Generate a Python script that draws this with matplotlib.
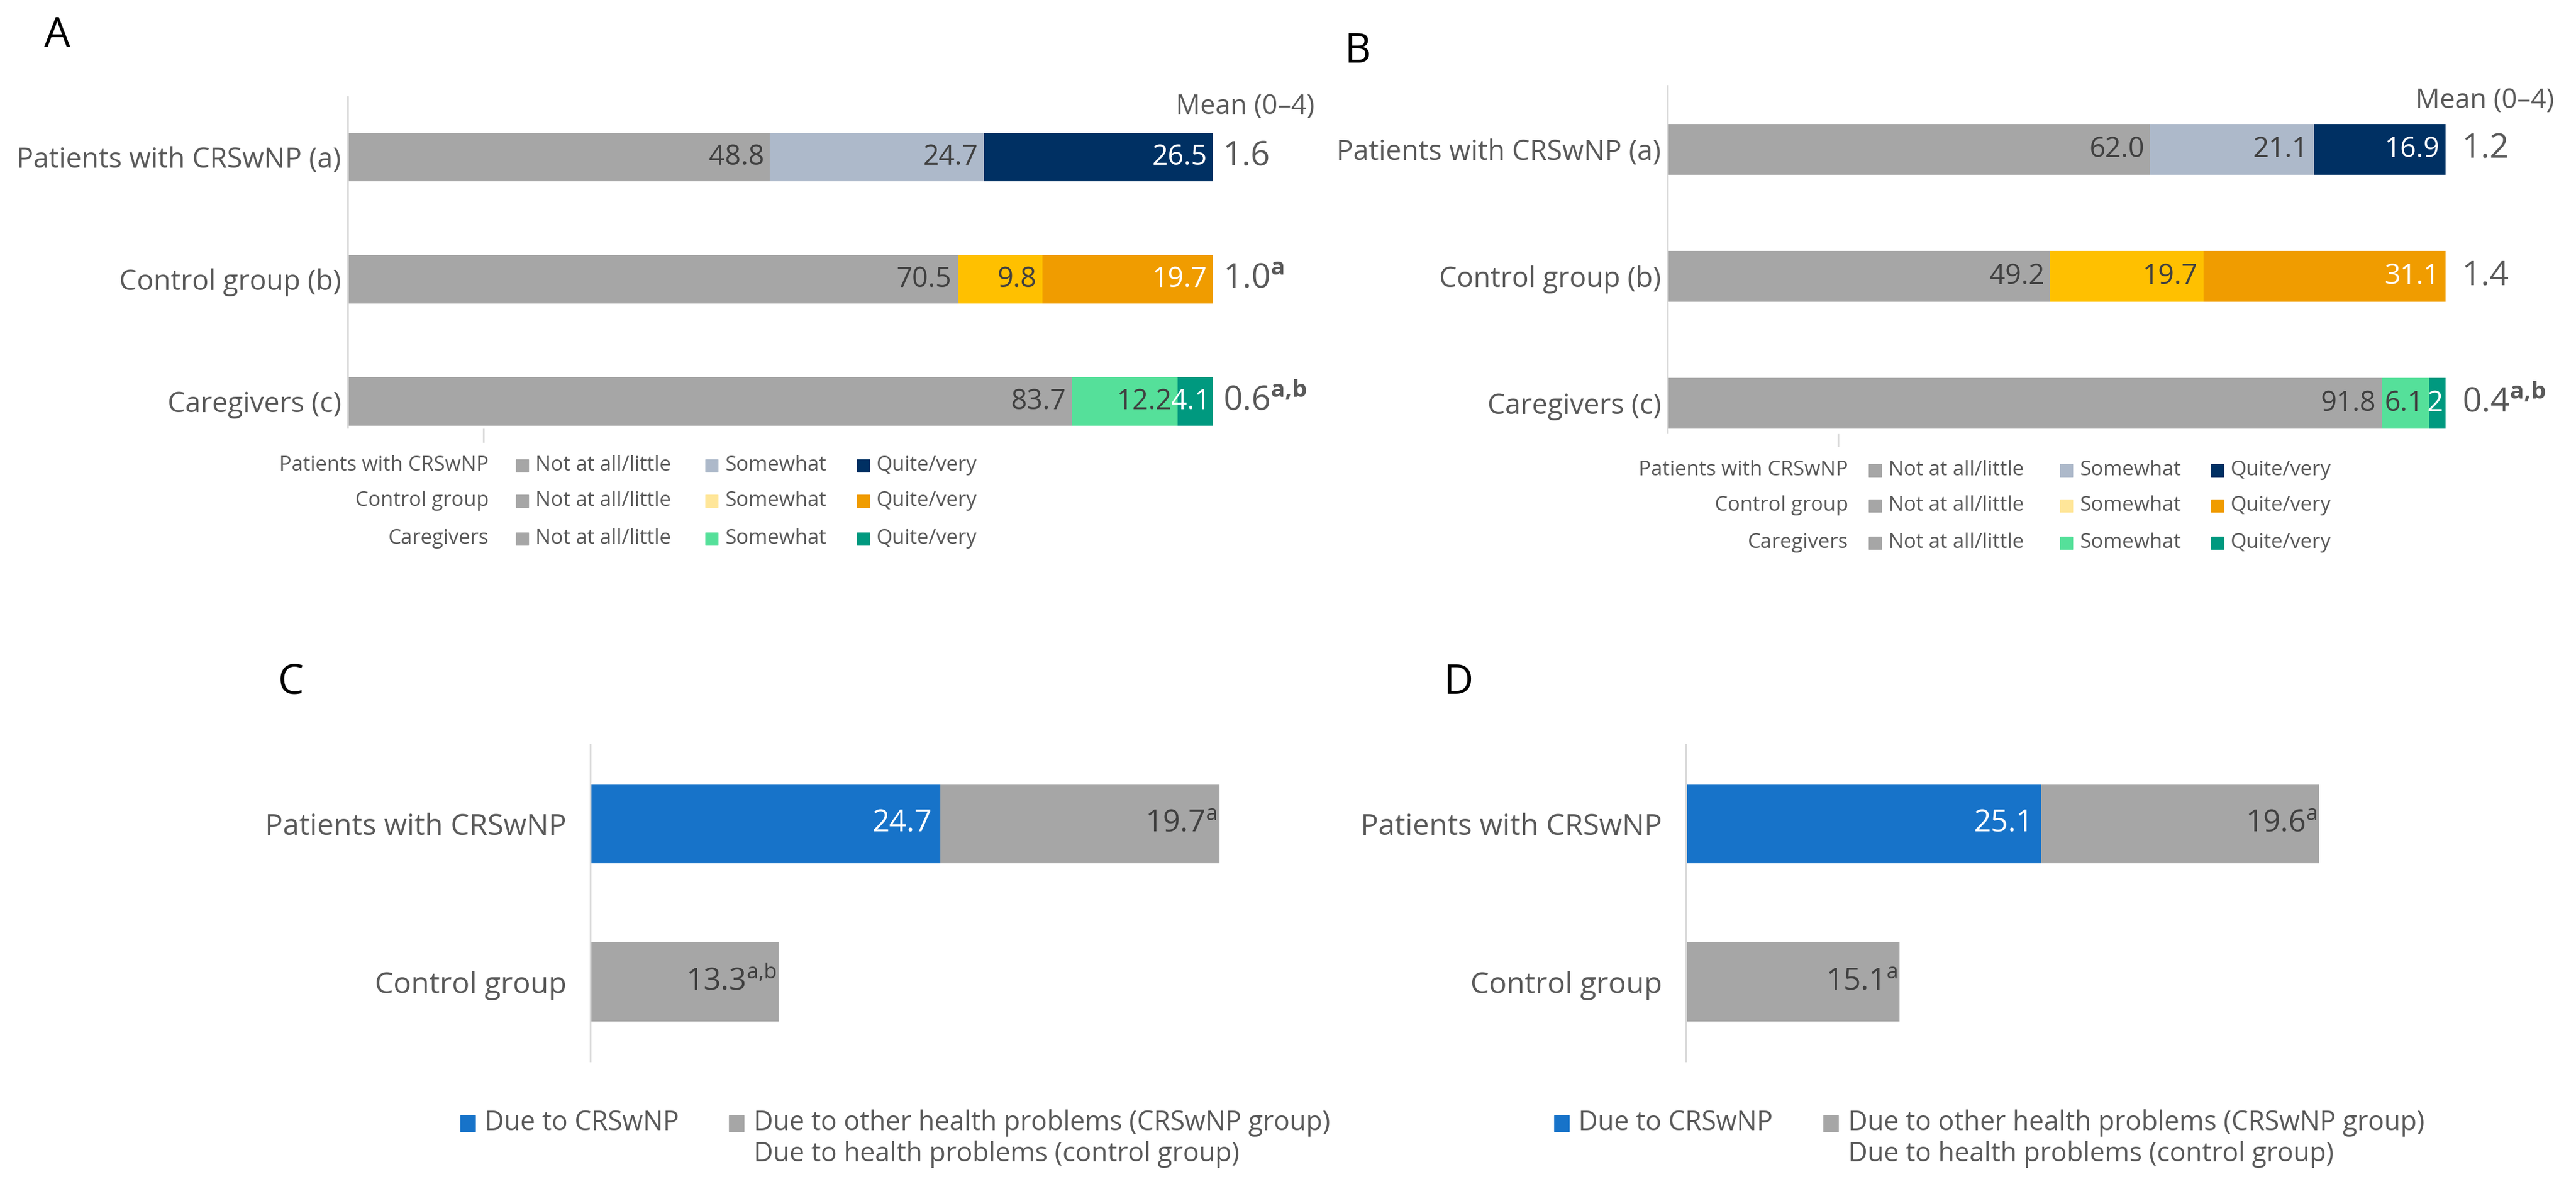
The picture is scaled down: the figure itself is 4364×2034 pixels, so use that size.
import matplotlib.pyplot as plt
from matplotlib.patches import Rectangle
from matplotlib.lines import Line2D

plt.rcParams['font.family'] = ['Open Sans', 'DejaVu Sans']
plt.rcParams['mathtext.fontset'] = 'custom'
plt.rcParams['mathtext.rm'] = 'Open Sans'
plt.rcParams['mathtext.bf'] = 'Open Sans:bold'

# ---- data ----
groups_ab = ['Patients with CRSwNP (a)', 'Control group (b)', 'Caregivers (c)']
a_not = [48.8, 70.5, 83.7]
a_some = [24.7, 9.8, 12.2]
a_quite = [26.5, 19.7, 4.1]
a_mean = ['1.6', '1.0', '0.6']
a_mean_sup = ['', 'a', 'a{,}b']

b_not = [62.0, 49.2, 91.8]
b_some = [21.1, 19.7, 6.1]
b_quite = [16.9, 31.1, 2.1]
b_quite_lbl = ['16.9', '31.1', '2']
b_mean = ['1.2', '1.4', '0.4']
b_mean_sup = ['', '', 'a{,}b']

groups_cd = ['Patients with CRSwNP', 'Control group']
c_crswnp = [24.7, 0]
c_other = [19.7, 13.3]
c_sup = ['a', 'a{,}b']
d_crswnp = [25.1, 0]
d_other = [19.6, 15.1]
d_sup = ['a', 'a']

legend_rows = ['Patients with CRSwNP', 'Control group', 'Caregivers']
legend_items = ['Not at all/little', 'Somewhat', 'Quite/very']
legend_cd = ['Due to CRSwNP',
             'Due to other health problems (CRSwNP group)',
             'Due to health problems (control group)']

# ---- colours ----
GREY = '#A6A6A6'
TXT = '#595959'
DARK = '#404040'
some_cols = ['#ADB9CA', '#FFC000', '#55E09A']
quite_cols = ['#003063', '#F09C00', '#00997F']
legend_cols = [[GREY, '#ADB9CA', '#003063'],
               [GREY, '#FFE699', '#F09C00'],
               [GREY, '#55E09A', '#00997F']]
BLUE = '#1773C9'
AXIS = '#D9D9D9'

W, H = 4364, 2034
fig = plt.figure(figsize=(W / 100, H / 100), dpi=100)


def fx(x):
    return x / W


def fy(y):
    return 1 - y / H


def style_axis(ax, pad):
    for s in ['top', 'right', 'bottom']:
        ax.spines[s].set_visible(False)
    ax.spines['left'].set_color(AXIS)
    ax.spines['left'].set_linewidth(2)
    ax.set_xticks([])
    ax.tick_params(axis='y', length=0, pad=pad, colors=TXT)


def seg_label(ax, x, y, text, color, size, off=-7):
    ax.annotate(text, (x, y), xytext=(off, 0), textcoords='offset points',
                ha='right', va='center', color=color, fontsize=size)


def panel_ab(rect, ylim, not_v, some_v, quite_v, quite_lbl, means, sups, mean_off, mean_head):
    ax = fig.add_axes(rect)
    y = list(range(len(groups_ab)))
    left2 = [a + b for a, b in zip(not_v, some_v)]
    ax.barh(y, not_v, height=0.4, color=GREY)
    ax.barh(y, some_v, left=not_v, height=0.4, color=some_cols)
    ax.barh(y, quite_v, left=left2, height=0.4, color=quite_cols)
    ax.set_xlim(0, 100)
    ax.set_ylim(*ylim)
    ax.set_yticks(y)
    ax.set_yticklabels(groups_ab, fontsize=34)
    style_axis(ax, 8)
    for i in y:
        seg_label(ax, not_v[i], i, f'{not_v[i]:.1f}', DARK, 34)
        seg_label(ax, left2[i], i, f'{some_v[i]:.1f}', DARK, 34)
        seg_label(ax, 100, i, quite_lbl[i], 'white', 34, off=-3 if quite_v[i] < 5 else -7)
        m = means[i] + (r'$^{\mathbf{%s}}$' % sups[i] if sups[i] else '')
        ax.annotate(m, (100, i), xytext=(mean_off, 0), textcoords='offset points',
                    ha='left', va='center', color=TXT, fontsize=41,
                    annotation_clip=False)
    ax.text(mean_head[0], mean_head[1], 'Mean (0\u20134)', fontsize=33, color=TXT,
            ha='left', va='center', clip_on=False)
    return ax


def panel_cd(rect, blue_v, grey_v, sups):
    ax = fig.add_axes(rect)
    y = list(range(len(groups_cd)))
    ax.barh(y, blue_v, height=0.5, color=BLUE)
    ax.barh(y, grey_v, left=blue_v, height=0.5, color=GREY)
    ax.set_xlim(0, 50)
    ax.set_ylim(1.5, -0.5)
    ax.set_yticks(y)
    ax.set_yticklabels(groups_cd, fontsize=36)
    style_axis(ax, 29)
    for i in y:
        if blue_v[i] > 0:
            seg_label(ax, blue_v[i], i, f'{blue_v[i]:.1f}', 'white', 37, off=-10)
        seg_label(ax, blue_v[i] + grey_v[i], i,
                  f'{grey_v[i]:.1f}' + r'$^{\mathrm{%s}}$' % sups[i], DARK, 37, off=-3)
    return ax


# panel A / B
panel_ab([fx(589), fy(724), fx(2055) - fx(589), fy(164) - fy(724)], (2.213, -0.493),
         a_not, a_some, a_quite, [f'{v:.1f}' for v in a_quite], a_mean, a_mean_sup,
         12, (95.7, -0.41))
panel_ab([fx(2825), fy(733), fx(4143) - fx(2825), fy(145) - fy(733)], (2.233, -0.502),
         b_not, b_some, b_quite, b_quite_lbl, b_mean, b_mean_sup,
         20, (96.1, -0.38))

# small stray tick marks under the A / B axes
for tx, ty0, ty1 in [(819, 727, 748), (3114, 736, 755)]:
    fig.add_artist(Line2D([fx(tx), fx(tx)], [fy(ty0), fy(ty1)], color=AXIS, lw=2,
                          transform=fig.transFigure))

# panel C / D
panel_cd([fx(1000), fy(1797), 1200 / W, fy(1261) - fy(1797)], c_crswnp, c_other, c_sup)
panel_cd([fx(2856), fy(1797), 1200 / W, fy(1261) - fy(1797)], d_crswnp, d_other, d_sup)

# panel letters
for letter, (px, py) in zip('ABCD', [(97, 61), (2300, 88), (493, 1157), (2470, 1157)]):
    fig.text(fx(px), fy(py), letter, fontsize=50, color='black', ha='center', va='center')


def square(x, y, w, h, color):
    fig.add_artist(Rectangle((fx(x), fy(y + h / 2)), w / W, h / H, color=color,
                             transform=fig.transFigure))


# legends A / B
for label_x, sq_x, rows_y in [(828, [874, 1195, 1452], [788, 848, 912]),
                              (3131, [3166, 3490, 3746], [796, 856, 919])]:
    for r, row in enumerate(legend_rows):
        fig.text(fx(label_x), fy(rows_y[r]), row, fontsize=25, color=TXT,
                 ha='right', va='center')
        for k, item in enumerate(legend_items):
            square(sq_x[k], rows_y[r], 21, 21, legend_cols[r][k])
            fig.text(fx(sq_x[k] + 33), fy(rows_y[r]), item, fontsize=25, color=TXT,
                     ha='left', va='center')

# legends C / D
for bx, gx in [(780, 1235), (2633, 3089)]:
    square(bx, 1902, 25, 27, BLUE)
    fig.text(fx(bx + 41), fy(1902), legend_cd[0], fontsize=32.5, color=TXT, va='center')
    square(gx, 1902, 25, 27, GREY)
    fig.text(fx(gx + 42), fy(1902), legend_cd[1], fontsize=32.5, color=TXT, va='center')
    fig.text(fx(gx + 42), fy(1955), legend_cd[2], fontsize=32.5, color=TXT, va='center')

fig.savefig('out.png', dpi=100, facecolor='white')
